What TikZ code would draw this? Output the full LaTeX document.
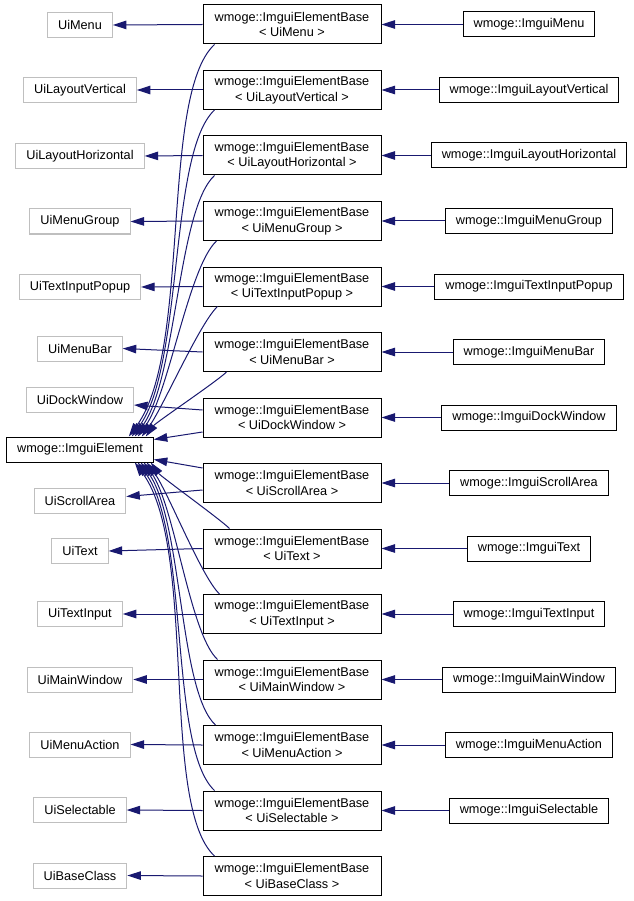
\documentclass[tikz,border=0pt]{standalone}
\usepackage{fontspec}
\setmainfont{Liberation Sans}
\usetikzlibrary{arrows.meta,calc}
\definecolor{edgeblue}{HTML}{191970}
\definecolor{boxgray}{HTML}{BFBFBF}
\newcommand\dfont{\fontsize{12.7}{15.5}\selectfont}
\begin{document}
\begin{tikzpicture}[x=1pt,y=-1pt,
  box/.style={draw=black, line width=1pt, fill=white, font=\dfont, inner xsep=10.5pt, inner ysep=0pt, minimum height=25pt},
  basebox/.style={box, draw=boxgray},
  tmpl/.style={box, minimum width=178pt, minimum height=39pt, align=center},
  inh/.style={draw=edgeblue, line width=1pt, -{Triangle[length=13.5pt,width=8.5pt]}}]
\useasboundingbox[fill=white] (0,0) rectangle (633,901);

% template boxes (middle column)
\node[tmpl] (m1)  at (292,24.5)  {wmoge::ImguiElementBase\\< UiMenu >};
\node[tmpl] (m2)  at (292,90)    {wmoge::ImguiElementBase\\< UiLayoutVertical >};
\node[tmpl] (m3)  at (292,155.5) {wmoge::ImguiElementBase\\< UiLayoutHorizontal >};
\node[tmpl] (m4)  at (292,221)   {wmoge::ImguiElementBase\\< UiMenuGroup >};
\node[tmpl] (m5)  at (292,286.5) {wmoge::ImguiElementBase\\< UiTextInputPopup >};
\node[tmpl] (m6)  at (292,352)   {wmoge::ImguiElementBase\\< UiMenuBar >};
\node[tmpl] (m7)  at (292,417.5) {wmoge::ImguiElementBase\\< UiDockWindow >};
\node[tmpl] (m8)  at (292,483)   {wmoge::ImguiElementBase\\< UiScrollArea >};
\node[tmpl] (m9)  at (292,548.5) {wmoge::ImguiElementBase\\< UiText >};
\node[tmpl] (m10) at (292,614)   {wmoge::ImguiElementBase\\< UiTextInput >};
\node[tmpl] (m11) at (292,679.5) {wmoge::ImguiElementBase\\< UiMainWindow >};
\node[tmpl] (m12) at (292,745)   {wmoge::ImguiElementBase\\< UiMenuAction >};
\node[tmpl] (m13) at (292,810.5) {wmoge::ImguiElementBase\\< UiSelectable >};
\node[tmpl] (m14) at (292,876)   {wmoge::ImguiElementBase\\< UiBaseClass >};

% base classes (left column)
\node[basebox] (l1)  at (80,25)    {UiMenu};
\node[basebox] (l2)  at (80,90)    {UiLayoutVertical};
\node[basebox] (l3)  at (80,156)   {UiLayoutHorizontal};
\node[basebox] (l4)  at (80,221.5) {UiMenuGroup};
\node[basebox] (l5)  at (80,287)   {UiTextInputPopup};
\node[basebox] (l6)  at (80,348.5) {UiMenuBar};
\node[basebox] (l7)  at (80,399.5) {UiDockWindow};
\node[box]     (ie)  at (80,449.5) {wmoge::ImguiElement};
\node[basebox] (l8)  at (80,500.5) {UiScrollArea};
\node[basebox] (l9)  at (80,551)   {UiText};
\node[basebox] (l10) at (80,614)   {UiTextInput};
\node[basebox] (l11) at (80,679.5) {UiMainWindow};
\node[basebox] (l12) at (80,744.5) {UiMenuAction};
\node[basebox] (l13) at (80,810)   {UiSelectable};
\node[basebox] (l14) at (80,875.5) {UiBaseClass};

% derived classes (right column)
\node[box] (r1)  at (529,24.5)  {wmoge::ImguiMenu};
\node[box] (r2)  at (529,90)    {wmoge::ImguiLayoutVertical};
\node[box] (r3)  at (529,155.5) {wmoge::ImguiLayoutHorizontal};
\node[box] (r4)  at (529,221)   {wmoge::ImguiMenuGroup};
\node[box] (r5)  at (529,286.5) {wmoge::ImguiTextInputPopup};
\node[box] (r6)  at (529,352)   {wmoge::ImguiMenuBar};
\node[box] (r7)  at (529,417.5) {wmoge::ImguiDockWindow};
\node[box] (r8)  at (529,483)   {wmoge::ImguiScrollArea};
\node[box] (r9)  at (529,548.5) {wmoge::ImguiText};
\node[box] (r10) at (529,614)   {wmoge::ImguiTextInput};
\node[box] (r11) at (529,679.5) {wmoge::ImguiMainWindow};
\node[box] (r12) at (529,745)   {wmoge::ImguiMenuAction};
\node[box] (r13) at (529,810.5) {wmoge::ImguiSelectable};

% right -> middle
\foreach \i in {1,...,13} { \draw[inh] (r\i.west) -- (m\i.east); }

% middle -> left base classes
\foreach \i in {1,2,3,4,5,6,10,11,12,13,14} { \draw[inh] (m\i.west) -- (l\i.east); }
\draw[inh] ($(m7.west)+(0,-7.5)$) -- ($(l7.east)+(0,5.5)$);
\draw[inh] ($(m8.west)+(0,7)$) -- ($(l8.east)+(0,-4)$);
\draw[inh] (m9.west) -- (l9.east);

% middle -> ImguiElement
\draw[inh] ($(m1.south west)+(12,0)$) .. controls +(-55,51) and +(63,-86) .. ($(ie.north east)+(-25,0)$);
\draw[inh] ($(m2.south west)+(12,0)$) .. controls +(-46,43) and +(52,-72) .. ($(ie.north east)+(-22,0)$);
\draw[inh] ($(m3.south west)+(12,0)$) .. controls +(-37,34) and +(42,-58) .. ($(ie.north east)+(-19,0)$);
\draw[inh] ($(m4.south west)+(14,0)$) .. controls +(-28,26) and +(31,-43) .. ($(ie.north east)+(-16,0)$);
\draw[inh] ($(m5.south west)+(15,0)$) .. controls +(-18,17) and +(21,-29) .. ($(ie.north east)+(-12,0)$);
\draw[inh] ($(m6.south west)+(24,0)$) .. controls +(-9,9) and +(10,-14) .. ($(ie.north east)+(-8,0)$);
\draw[inh] ($(m7.west)+(0,14.5)$) -- ($(ie.east)+(0,-10)$);
\draw[inh] ($(m8.west)+(0,-15)$) -- ($(ie.east)+(0,10)$);
\draw[inh] ($(m9.north west)+(27,0)$) .. controls +(-9,-9) and +(10,14) .. ($(ie.south east)+(-3,0)$);
\draw[inh] ($(m10.north west)+(17,0)$) .. controls +(-18,-17) and +(21,29) .. ($(ie.south east)+(-7,0)$);
\draw[inh] ($(m11.north west)+(15,0)$) .. controls +(-28,-26) and +(31,43) .. ($(ie.south east)+(-10,0)$);
\draw[inh] ($(m12.north west)+(13,0)$) .. controls +(-37,-34) and +(42,58) .. ($(ie.south east)+(-13,0)$);
\draw[inh] ($(m13.north west)+(12,0)$) .. controls +(-46,-43) and +(52,72) .. ($(ie.south east)+(-16,0)$);
\draw[inh] ($(m14.north west)+(12,0)$) .. controls +(-55,-51) and +(63,86) .. ($(ie.south east)+(-19,0)$);
\end{tikzpicture}
\end{document}
